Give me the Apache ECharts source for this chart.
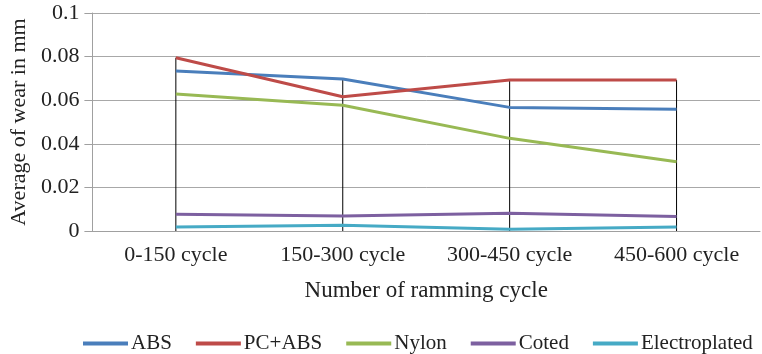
<!DOCTYPE html>
<html><head><meta charset="utf-8">
<script src="https://cdn.jsdelivr.net/npm/echarts@6/dist/echarts.min.js"></script>
<style>html,body{margin:0;padding:0;background:#fff}#c{width:762px;height:354px}</style>
</head><body><div id="c"></div>
<script>
const categories = ['0-150 cycle', '150-300 cycle', '300-450 cycle', '450-600 cycle'];
const seriesNames = ['ABS', 'PC+ABS', 'Nylon', 'Coted', 'Electroplated'];
const abs = [0.0734, 0.0697, 0.0567, 0.0558];
const pcAbs = [0.0795, 0.0616, 0.0693, 0.0693];
const nylon = [0.0628, 0.0577, 0.0425, 0.0318];
const coted = [0.0077, 0.0069, 0.0081, 0.0066];
const electroplated = [0.0018, 0.0026, 0.0008, 0.0018];
const yTicks = [0, 0.02, 0.04, 0.06, 0.08, 0.1];

const all = [abs, pcAbs, nylon, coted, electroplated];
const colors = ['#4A7EBB', '#BE4B48', '#98B954', '#7D60A0', '#46AAC5'];
const dropData = categories.map((c, i) => [i, Math.max(...all.map(s => s[i]))]);
const font = 'Liberation Serif';

const chart = echarts.init(document.getElementById('c'));
chart.setOption({
  animation: false,
  grid: {left: 90, right: 2, top: 13, bottom: 123, containLabel: false},
  legend: {
    data: seriesNames, top: 328, left: 78, itemWidth: 45, itemHeight: 4, itemGap: 24,
    icon: 'rect',
    textStyle: {fontFamily: font, fontSize: 21, color: '#222', padding: [0, 0, 0, -2]}
  },
  xAxis: {
    type: 'category', data: categories, boundaryGap: true,
    axisLine: {lineStyle: {color: '#a0a0a0'}},
    axisTick: {show: false},
    axisLabel: {fontFamily: font, fontSize: 22, color: '#222', margin: 13},
    name: 'Number of ramming cycle', nameLocation: 'middle', nameGap: 48,
    nameTextStyle: {fontFamily: font, fontSize: 23, color: '#222'}
  },
  yAxis: {
    type: 'value', min: 0, max: 0.1, interval: 0.02,
    axisLine: {show: true, lineStyle: {color: '#a0a0a0'}},
    axisTick: {show: true, length: 8, lineStyle: {color: '#a0a0a0'}},
    splitLine: {lineStyle: {color: '#a8a8a8'}},
    axisLabel: {fontFamily: font, fontSize: 22, color: '#222', margin: 13,
      formatter: v => { const t = yTicks.find(x => Math.abs(x - v) < 1e-9); return String(t !== undefined ? +t.toFixed(2) : v); }},
    name: 'Average of wear in mm', nameLocation: 'middle', nameGap: 62, nameRotate: 90,
    nameTextStyle: {fontFamily: font, fontSize: 22, color: '#222'}
  },
  series: [
    {
      type: 'custom', name: 'drop', silent: true, z: 1,
      data: dropData,
      renderItem: (params, api) => {
        const top = api.coord([api.value(0), api.value(1)]);
        const bot = api.coord([api.value(0), 0]);
        return {type: 'line', shape: {x1: top[0], y1: top[1], x2: bot[0], y2: bot[1]},
          style: {stroke: '#000', lineWidth: 1}};
      }
    },
    ...seriesNames.map((n, k) => ({
      type: 'line', name: n, data: all[k], symbol: 'none', z: 3,
      itemStyle: {color: colors[k]},
      lineStyle: {width: 3, color: colors[k]}
    }))
  ]
});
</script></body></html>
